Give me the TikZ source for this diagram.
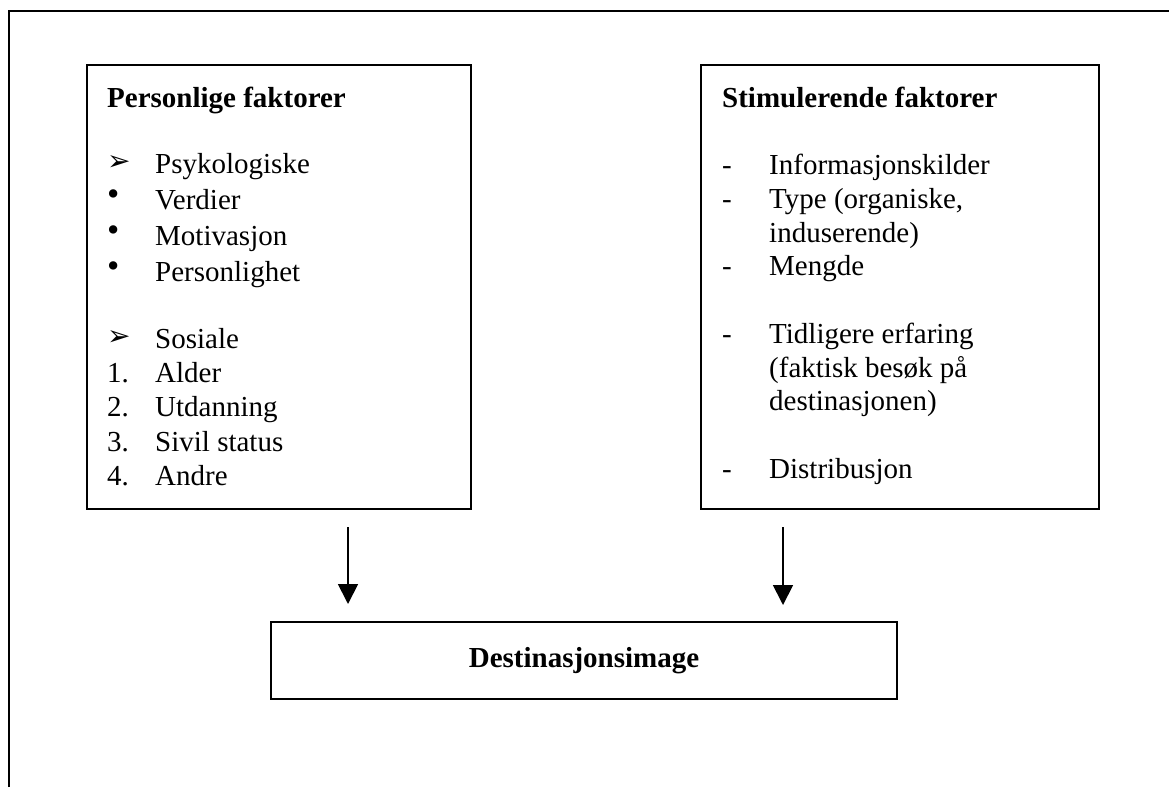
\documentclass[tikz,border=0pt]{standalone}
\usepackage{fontspec}
\setmainfont{Liberation Serif}
\newfontfamily\dingfont{DejaVu Sans}
\usetikzlibrary{positioning,arrows.meta}
\tikzset{every node/.style={font=\fontsize{29}{34}\selectfont, inner sep=0pt}}
\tikzset{factor/.style={draw, line width=1.8pt, anchor=north west}}
\tikzset{entry/.style={anchor=base west}}
\tikzset{heading/.style={anchor=base west, font=\bfseries\fontsize{29}{34}\selectfont}}
\tikzset{flow/.style={line width=1.8pt, -{Triangle[width=20pt,length=20pt]}}}
\newcommand{\arrowmark}{\raisebox{3pt}{\dingfont\fontsize{28}{28}\selectfont ➢}}
\newcommand{\dotmark}{\raisebox{4pt}{\fontsize{35}{35}\selectfont\textbullet}}

\begin{document}
\begin{tikzpicture}[x=1pt,y=-1pt]
\useasboundingbox (0,0) rectangle (1169,787);
\draw[line width=1.8pt] (9,787) -- (9,11) -- (1169,11);

\node[factor,minimum width=384pt,minimum height=444pt] (personal) at (86,64) {};
\node[factor,minimum width=398pt,minimum height=444pt] (stimuli) at (700,64) {};
\node[draw,line width=1.8pt,minimum width=626pt,minimum height=77pt,font=\bfseries\fontsize{29}{34}\selectfont] (image) at (584,660.5) {Destinasjonsimage};

\node[heading] (personaltitle) at (107,107) {Personlige faktorer};
\node[heading] (stimulititle) at (722,107) {Stimulerende faktorer};

% personlige faktorer
\foreach \y/\sym/\txt [count=\i] in {173/\arrowmark/Psykologiske, 209/\dotmark/Verdier,
    245/\dotmark/Motivasjon, 281/\dotmark/Personlighet, 348/\arrowmark/Sosiale,
    382/1./Alder, 416/2./Utdanning, 451/3./{Sivil status}, 485/4./Andre} {
  \node[entry] (psym\i) at (107,\y) {\sym};
  \node[entry] (pitem\i) at (155,\y) {\txt};
}

% stimulerende faktorer
\foreach \y/\sym/\txt [count=\i] in {174/-/Informasjonskilder, 208/-/{Type (organiske,},
    242//{induserende)}, 275/-/Mengde, 343/-/{Tidligere erfaring},
    377//{(faktisk besøk på}, 410//{destinasjonen)}, 478/-/Distribusjon} {
  \node[entry] (ssym\i) at (722,\y) {\sym};
  \node[entry] (sitem\i) at (769,\y) {\txt};
}

\coordinate (ptail) at (348,527);
\coordinate (ptip) at (348,604);
\coordinate (stail) at (783,527);
\coordinate (stip) at (783,605);
\draw[flow] (ptail) -- (ptip);
\draw[flow] (stail) -- (stip);

\end{tikzpicture}
\end{document}
